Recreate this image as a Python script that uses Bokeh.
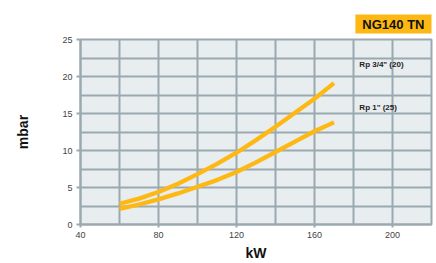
from bokeh.plotting import figure
from bokeh.models import Range1d, SingleIntervalTicker, Label, Title
from bokeh.embed import file_html
from bokeh.resources import INLINE

# data
flow_kw = [60, 70, 80, 90, 100, 110, 120, 130, 140, 150, 160, 170]
rp34_mbar = [2.8, 3.5, 4.4, 5.5, 6.8, 8.2, 9.7, 11.4, 13.2, 15.1, 17.0, 19.1]
rp1_mbar = [2.1, 2.7, 3.4, 4.2, 5.1, 6.0, 7.1, 8.4, 9.8, 11.2, 12.6, 13.8]
series_names = ['Rp 3/4" (20)', 'Rp 1" (25)']
label_pos_x = [183, 183]
label_pos_y = [21.6, 15.8]
title_text = "NG140 TN"

ORANGE = "#FDB813"
GRID = "#9AA9B0"
FONT = "Liberation Sans"

p = figure(width=436, height=263, output_backend="svg", toolbar_location=None,
           x_range=Range1d(40, 220), y_range=Range1d(0, 25),
           min_border_left=80, min_border_right=5, min_border_top=39, min_border_bottom=39)
p.background_fill_color = "#E8EDF0"
p.border_fill_color = "white"
p.outline_line_color = GRID
p.outline_line_width = 2

p.xaxis.ticker = SingleIntervalTicker(interval=40)
p.yaxis.ticker = SingleIntervalTicker(interval=5)
p.xgrid.ticker = SingleIntervalTicker(interval=20)
p.ygrid.ticker = SingleIntervalTicker(interval=2.5)
for g in (p.xgrid, p.ygrid):
    g.grid_line_color = GRID
    g.grid_line_width = 2
    g.grid_line_alpha = 1

for ax in (p.xaxis, p.yaxis):
    ax.axis_line_color = GRID
    ax.axis_line_width = 2
    ax.major_tick_line_color = GRID
    ax.major_tick_line_width = 2
    ax.major_tick_in = 0
    ax.minor_tick_line_color = None
    ax.major_label_text_font = FONT
    ax.major_label_text_font_size = "9px"
    ax.major_label_text_color = "#444444"
    ax.axis_label_text_font = FONT
    ax.axis_label_text_font_style = "bold"
    ax.axis_label_text_font_size = "14px"
    ax.axis_label_text_color = "#111111"

p.yaxis.major_tick_out = 4
p.yaxis.major_label_standoff = 4
p.yaxis.axis_label = "mbar"
p.yaxis.axis_label_standoff = 28
p.xaxis.major_tick_out = 3
p.xaxis.major_label_standoff = 3
p.xaxis.axis_label = "kW"
p.xaxis.axis_label_standoff = 4

p.line(flow_kw, rp34_mbar, line_color=ORANGE, line_width=4.3)
p.line(flow_kw, rp1_mbar, line_color=ORANGE, line_width=4.3)

for name, lx, ly in zip(series_names, label_pos_x, label_pos_y):
    p.add_layout(Label(x=lx, y=ly, text=name, text_font=FONT, text_font_style="bold",
                       text_font_size="8px", text_color="#222222", text_baseline="middle"))

p.add_layout(Title(text=title_text, align="right", text_font=FONT, text_font_style="bold",
                   text_font_size="13px", text_color="#111111",
                   background_fill_color=ORANGE, padding=[7, 2], standoff=12), "above")

open("out.html", "w").write(file_html(p, INLINE))
